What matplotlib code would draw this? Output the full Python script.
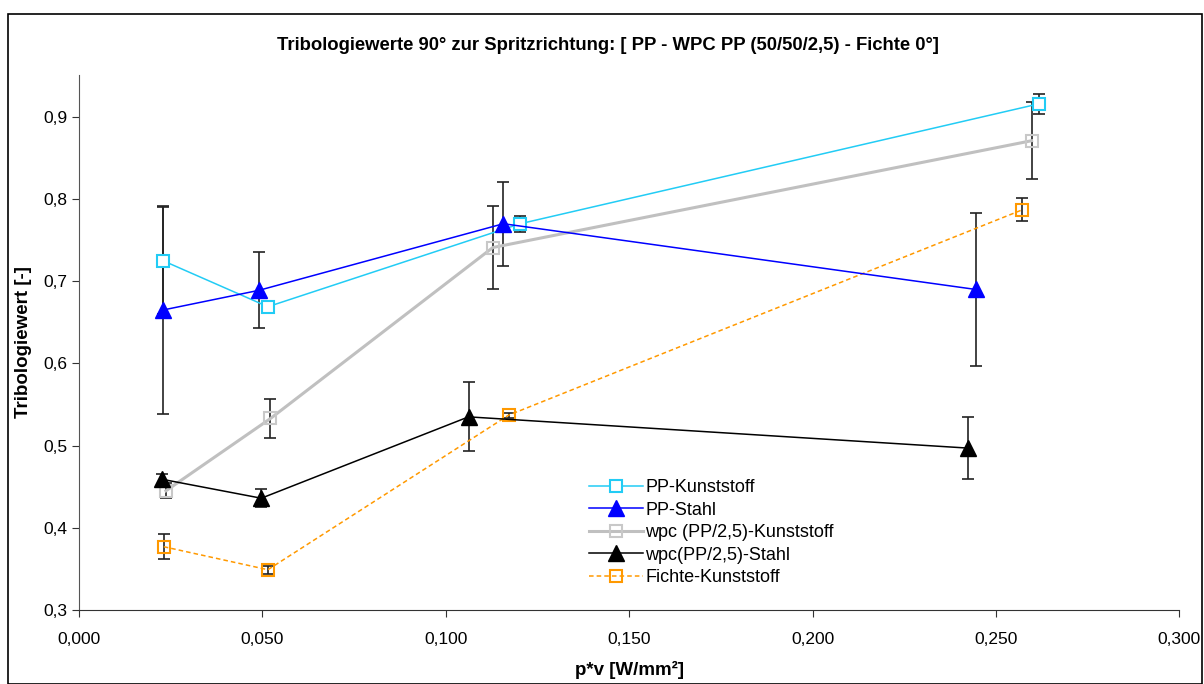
import matplotlib
matplotlib.use('Agg')
import matplotlib.pyplot as plt
from matplotlib.ticker import FuncFormatter
from matplotlib.patches import Rectangle

plt.rcParams['font.family'] = ['Liberation Sans', 'DejaVu Sans']

# data
pp_k_x = [0.0229, 0.0515, 0.1203, 0.2618]
pp_k_y = [0.725, 0.669, 0.770, 0.916]
pp_k_err = [0.065, 0.004, 0.010, 0.012]

pp_s_x = [0.0229, 0.0491, 0.1157, 0.2445]
pp_s_y = [0.665, 0.689, 0.770, 0.690]
pp_s_err = [0.127, 0.046, 0.051, 0.093]

wpc_k_x = [0.0237, 0.0522, 0.1128, 0.2597]
wpc_k_y = [0.445, 0.533, 0.741, 0.871]
wpc_k_err = [0.009, 0.024, 0.050, 0.047]

wpc_s_x = [0.0227, 0.0497, 0.1062, 0.2423]
wpc_s_y = [0.459, 0.436, 0.535, 0.497]
wpc_s_err = [0.006, 0.011, 0.042, 0.038]

fi_k_x = [0.0231, 0.0515, 0.1171, 0.2572]
fi_k_y = [0.377, 0.349, 0.537, 0.787]
fi_k_err = [0.015, 0.005, 0.003, 0.014]

fig = plt.figure(figsize=(12.04, 6.84), dpi=100)
ax = fig.add_axes([0.0656, 0.1082, 0.914, 0.7822])

# outer frame of the chart
fig.patches.append(Rectangle((0.007, 0.0), 0.991, 0.979, transform=fig.transFigure,
                             fill=False, edgecolor='black', linewidth=1.2))

err_kw = dict(fmt='none', ecolor='#222222', elinewidth=1.2, capsize=4.5, capthick=1.2, zorder=2)
ax.errorbar(pp_k_x, pp_k_y, yerr=pp_k_err, **err_kw)
ax.errorbar(pp_s_x, pp_s_y, yerr=pp_s_err, **err_kw)
ax.errorbar(wpc_k_x, wpc_k_y, yerr=wpc_k_err, **err_kw)
ax.errorbar(wpc_s_x, wpc_s_y, yerr=wpc_s_err, **err_kw)
ax.errorbar(fi_k_x, fi_k_y, yerr=fi_k_err, **err_kw)

ax.plot(pp_k_x, pp_k_y, color='#22CCF5', lw=1.1, marker='s', ms=9,
        mfc='white', mec='#22CCF5', mew=1.5, label='PP-Kunststoff', zorder=4)
ax.plot(pp_s_x, pp_s_y, color='#0000FF', lw=1.1, marker='^', ms=11.5,
        mfc='#0000FF', mec='#0000FF', label='PP-Stahl', zorder=4)
ax.plot(wpc_k_x, wpc_k_y, color='#C0C0C0', lw=2.2, marker='s', ms=9,
        mfc='none', mec='#C8C8C8', mew=1.5, label='wpc (PP/2,5)-Kunststoff', zorder=3)
ax.plot(wpc_s_x, wpc_s_y, color='black', lw=1.1, marker='^', ms=11.5,
        mfc='black', mec='black', label='wpc(PP/2,5)-Stahl', zorder=4)
ax.plot(fi_k_x, fi_k_y, color='#FF9900', lw=1.1, ls=(0, (3, 2)), marker='s', ms=9,
        mfc='none', mec='#FF9900', mew=1.5, label='Fichte-Kunststoff', zorder=3)

ax.set_xlim(0, 0.3)
ax.set_ylim(0.3, 0.951)
ax.set_xticks([0, 0.05, 0.1, 0.15, 0.2, 0.25, 0.3])
ax.set_yticks([0.3, 0.4, 0.5, 0.6, 0.7, 0.8, 0.9])
ax.xaxis.set_major_formatter(FuncFormatter(lambda v, p: f'{v:.3f}'.replace('.', ',')))
ax.yaxis.set_major_formatter(FuncFormatter(lambda v, p: f'{v:.1f}'.replace('.', ',')))
ax.tick_params(axis='both', direction='out', length=5, labelsize=12.5, colors='#333333',
               labelcolor='black')
ax.tick_params(axis='x', pad=11)

ax.spines['top'].set_visible(False)
ax.spines['right'].set_visible(False)
ax.spines['left'].set_color('#555555')
ax.spines['bottom'].set_color('#333333')

# title is centred on the whole chart, not on the plot area
fig.text(0.505, 0.934, 'Tribologiewerte 90° zur Spritzrichtung: [ PP - WPC PP (50/50/2,5) - Fichte 0°]',
         fontsize=13.3, fontweight='bold', ha='center', va='center')
ax.set_xlabel('p*v [W/mm²]', fontsize=13.5, fontweight='bold', labelpad=10)
ax.set_ylabel('Tribologiewert [-]', fontsize=13.5, fontweight='bold', labelpad=8)

ax.legend(loc='upper left', bbox_to_anchor=(0.455, 0.261), frameon=False, fontsize=13,
          handlelength=3.0, handletextpad=0.12, labelspacing=0.3, borderpad=0)

fig.savefig('out.png', dpi=100)
